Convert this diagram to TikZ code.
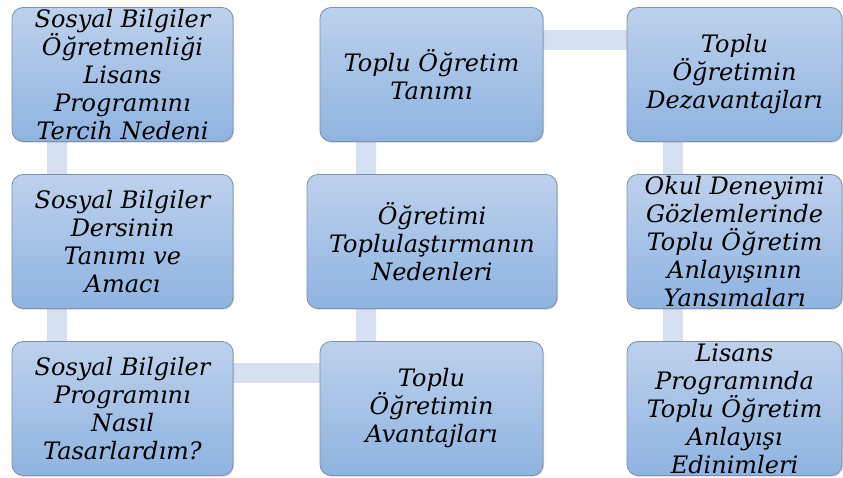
\documentclass[tikz,border=0pt]{standalone}
\usepackage{fontspec}
\usepackage{tikz}
\usetikzlibrary{positioning,shadows,backgrounds}
\newfontfamily\boxfont{DejaVu Serif}[ItalicFont={DejaVu Serif Italic}]
\definecolor{boxTop}{HTML}{BDD1EC}
\definecolor{boxBot}{HTML}{8FB3E0}
\definecolor{boxLine}{HTML}{7A90AE}
\definecolor{barBlue}{HTML}{D5E0F1}
\tikzset{bx/.style={rectangle, rounded corners=11pt, draw=boxLine, line width=0.8pt,
  top color=boxTop, bottom color=boxBot, align=center, inner sep=0pt,
  minimum height=134pt, font=\boxfont\itshape\fontsize{24}{28}\selectfont,
  drop shadow={opacity=0.35, shadow xshift=1pt, shadow yshift=-1.2pt}}}
\tikzset{bar/.style={draw=barBlue, line width=20pt}}

\begin{document}
\begin{tikzpicture}[x=1pt,y=-1pt]
        \useasboundingbox (0,0) rectangle (843,477);
        %% left column
        \node (tercih) at (122.5,74.5) [bx, minimum width=221pt]
            {Sosyal Bilgiler\\Öğretmenliği\\Lisans\\Programını\\Tercih Nedeni};
        \node (ders) at (122.5,241.5) [bx, minimum width=221pt]
            {Sosyal Bilgiler\\Dersinin\\Tanımı ve\\Amacı};
        \node (tasar) at (122.5,408.5) [bx, minimum width=221pt]
            {Sosyal Bilgiler\\Programını\\Nasıl\\Tasarlardım?};
        %% middle column
        \node (avan) at (431.5,408.5) [bx, minimum width=223pt]
            {Toplu\\Öğretimin\\Avantajları};
        \node (neden) at (432,241.5) [bx, minimum width=250pt]
            {Öğretimi\\Toplulaştırmanın\\Nedenleri};
        \node (tanim) at (431.5,74.5) [bx, minimum width=223pt]
            {Toplu Öğretim\\Tanımı};
        %% right column
        \node (dezav) at (734.5,74.5) [bx, minimum width=215pt]
            {Toplu\\Öğretimin\\Dezavantajları};
        \node (okul) at (734.5,241.5) [bx, minimum width=215pt]
            {Okul Deneyimi\\Gözlemlerinde\\Toplu Öğretim\\Anlayışının\\Yansımaları};
        \node (lisans) at (734.5,408.5) [bx, minimum width=215pt]
            {Lisans\\Programında\\Toplu Öğretim\\Anlayışı\\Edinimleri};
        %% connecting bars
        \begin{scope}[on background layer]
            \draw [bar] ([xshift=45pt]tercih.south west) to ([xshift=45pt]ders.north west);
            \draw [bar] ([xshift=45pt]ders.south west) to ([xshift=45pt]tasar.north west);
            \draw [bar] ([yshift=-32pt]tasar.north east) to ([yshift=-32pt]avan.north west);
            \draw [bar] ([xshift=46pt]avan.north west) to ([xshift=59pt]neden.south west);
            \draw [bar] ([xshift=59pt]neden.north west) to ([xshift=46pt]tanim.south west);
            \draw [bar] ([yshift=-33pt]tanim.north east) to ([yshift=-33pt]dezav.north west);
            \draw [bar] ([xshift=46pt]dezav.south west) to ([xshift=46pt]okul.north west);
            \draw [bar] ([xshift=46pt]okul.south west) to ([xshift=46pt]lisans.north west);
        \end{scope}
\end{tikzpicture}
\end{document}
